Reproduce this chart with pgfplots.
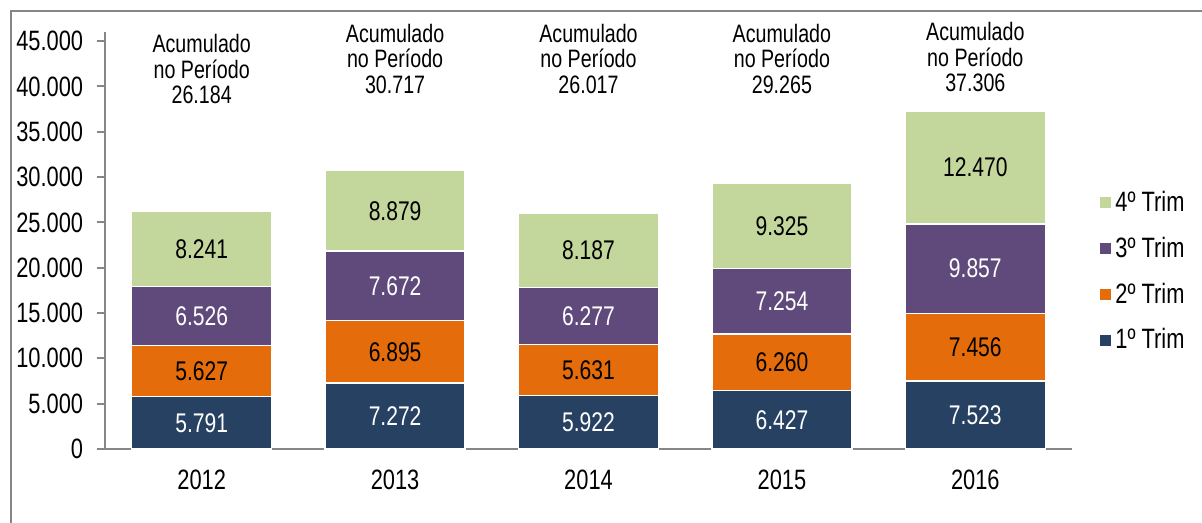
\documentclass[border=0pt]{standalone}
\usepackage{fontspec}
\setmainfont{Liberation Sans}[FakeStretch=0.78]
\usepackage{pgfplots}
\usepackage{pgfplotstable}
\pgfplotsset{compat=1.18}
\definecolor{cA}{HTML}{264161}
\definecolor{cB}{HTML}{E46C0A}
\definecolor{cC}{HTML}{604A7B}
\definecolor{cD}{HTML}{C3D69B}
\definecolor{axgray}{HTML}{868686}
\pgfplotstableread{
x q1 q2 q3 q4
0 5791 5627 6526 8241
1 7272 6895 7672 8879
2 5922 5631 6277 8187
3 6427 6260 7254 9325
4 7523 7456 9857 12470
}\data
\pgfplotsset{
  common/.style={
    at={(52.5pt,37pt)}, anchor=south west,
    scale only axis, width=483.5pt, height=208.5pt,
    xmin=-0.5, xmax=4.5, ymin=0, ymax=46000, clip=false,
  },
  lab/.style={draw=none, nodes near coords,
    every node near coord/.style={anchor=center, text=#1, font=\fontsize{13.5}{15}\selectfont}},
}
\begin{document}
\begin{tikzpicture}
\useasboundingbox (0,0) rectangle (601pt,261.5pt);
\draw[axgray, line width=0.85pt] (5.5pt,0) -- (5.5pt,256pt) -- (601pt,256pt);
\begin{axis}[
  common,
  ybar stacked, bar width=70pt,
  axis lines*=left,
  axis line style={axgray, line width=0.9pt},
  tick style={axgray, line width=0.9pt},
  tick align=outside,
  xtick=data, xticklabels={2012,2013,2014,2015,2016},
  x tick style={draw=none},
  extra x ticks={-0.5,0.5,1.5,2.5,3.5,4.5},
  extra x tick labels={},
  extra x tick style={major tick length=3.5pt},
  ytick={0,5000,...,45000},
  major tick length=4pt,
  scaled y ticks=false,
  /pgf/number format/1000 sep={.},
  /pgf/number format/assume math mode=true,
  tick label style={font=\fontsize{14}{16}\selectfont},
  yticklabel style={xshift=-3.4pt},
  xticklabel style={yshift=-3pt},
  reverse legend,
  legend style={at={(1.029,0.4257)}, anchor=west, draw=none, inner sep=0pt,
    font=\fontsize{14}{15.5}\selectfont, row sep=7.3pt},
  legend cell align=left,
  legend image code/.code={\fill[#1, draw=none] (0pt,-2.75pt) rectangle (5.5pt,2.75pt);},
]
\addplot[fill=cA, draw=white, line width=0.7pt] table[x=x,y=q1]{\data};
\addplot[fill=cB, draw=white, line width=0.7pt] table[x=x,y=q2]{\data};
\addplot[fill=cC, draw=white, line width=0.7pt] table[x=x,y=q3]{\data};
\addplot[fill=cD, draw=white, line width=0.7pt] table[x=x,y=q4]{\data};
\legend{1º Trim,2º Trim,3º Trim,4º Trim}
\node[align=center, font=\fontsize{12.6}{12.75}\selectfont] at (axis cs:0,41900) {Acumulado\\no Período\\26.184};
\node[align=center, font=\fontsize{12.6}{12.75}\selectfont] at (axis cs:1,43065) {Acumulado\\no Período\\30.717};
\node[align=center, font=\fontsize{12.6}{12.75}\selectfont] at (axis cs:2,43065) {Acumulado\\no Período\\26.017};
\node[align=center, font=\fontsize{12.6}{12.75}\selectfont] at (axis cs:3,43065) {Acumulado\\no Período\\29.265};
\node[align=center, font=\fontsize{12.6}{12.75}\selectfont] at (axis cs:4,43230) {Acumulado\\no Período\\37.306};
\end{axis}
\begin{axis}[common, hide axis,
  /pgf/number format/1000 sep={.},
  /pgf/number format/assume math mode=true,
  point meta=explicit]
\addplot[lab=white] table[x=x, y expr=\thisrow{q1}/2, meta=q1]{\data};
\addplot[lab=black] table[x=x, y expr=\thisrow{q1}+\thisrow{q2}/2, meta=q2]{\data};
\addplot[lab=white] table[x=x, y expr=\thisrow{q1}+\thisrow{q2}+\thisrow{q3}/2, meta=q3]{\data};
\addplot[lab=black] table[x=x, y expr=\thisrow{q1}+\thisrow{q2}+\thisrow{q3}+\thisrow{q4}/2, meta=q4]{\data};
\end{axis}
\end{tikzpicture}
\end{document}
